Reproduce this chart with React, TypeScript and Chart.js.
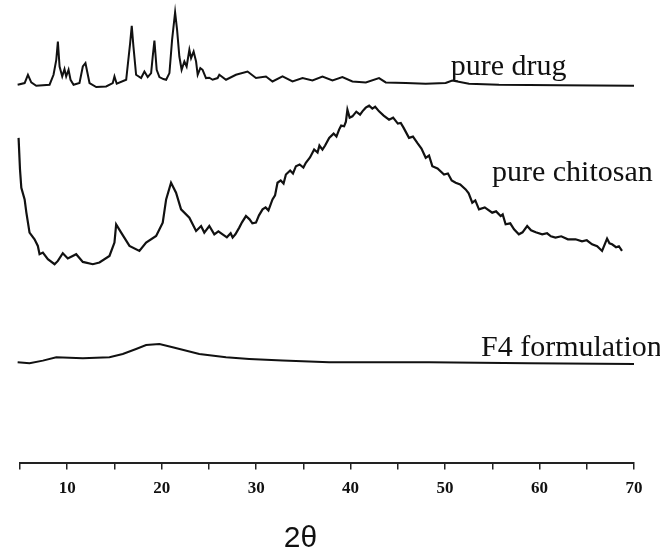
import React, { useEffect, useRef } from "react";
import { Chart, registerables } from "chart.js";

Chart.register(...registerables);

// Stacked XRD patterns (offset intensity, arbitrary units) vs 2θ
const drugTheta = [4.75, 5.49, 5.84, 6.19, 6.72, 8.13, 8.55, 8.84, 9.01, 9.19, 9.47, 9.71, 9.89, 10.14, 10.35, 10.67, 11.3, 11.65, 11.93, 12.11, 12.36, 13.07, 14.12, 14.82, 15.0, 15.24, 16.24, 16.66, 16.83, 17.01, 17.29, 17.82, 18.17, 18.52, 18.88, 19.05, 19.23, 19.47, 19.76, 20.18, 20.47, 20.82, 21.1, 21.42, 21.63, 21.87, 22.11, 22.4, 22.64, 22.93, 23.11, 23.38, 23.64, 23.81, 24.09, 24.33, 24.69, 25.04, 25.39, 25.92, 26.1, 26.81, 27.86, 29.09, 29.98, 31.04, 31.73, 32.79, 33.85, 34.91, 35.96, 37.02, 38.08, 39.13, 40.19, 41.61, 43.01, 43.72, 45.84, 47.95, 50.06, 50.76, 52.53, 55.7, 62.04, 70.0];
const drugCounts = [379, 380.7, 389, 381.3, 378, 379, 389, 404, 422.3, 397.3, 387.3, 394.7, 387.3, 394, 384, 379, 380.7, 397.3, 400.7, 392.3, 380.7, 376.7, 377.3, 380.7, 387.3, 380, 384, 420.7, 438, 417.3, 389, 385.7, 392.3, 386.7, 390.7, 407.3, 423.3, 394, 386.7, 384.7, 384, 390.7, 424, 451.7, 434, 407.3, 394, 402.3, 397.3, 414, 405.7, 412.3, 402.3, 389, 395.7, 394, 385.7, 386, 384, 385.7, 389, 384, 389, 392.3, 385.7, 387.3, 382.3, 387.3, 382.3, 385.7, 383.3, 387.3, 383.3, 386.7, 382.3, 381.3, 385.7, 381.3, 380.7, 380, 380.7, 383.3, 380, 379, 378.5, 378];

const chitosanTheta = [4.85, 5.0, 5.14, 5.49, 5.67, 6.01, 6.54, 6.89, 7.07, 7.42, 7.95, 8.66, 9.01, 9.53, 10.06, 10.95, 11.65, 12.71, 13.41, 14.47, 15.0, 15.18, 15.71, 16.59, 17.64, 18.35, 19.41, 20.11, 20.47, 20.99, 21.52, 22.05, 22.93, 23.64, 24.17, 24.51, 25.04, 25.57, 26.0, 26.45, 26.9, 27.3, 27.51, 27.8, 28.21, 28.5, 28.92, 29.3, 29.6, 29.98, 30.3, 30.68, 31.0, 31.3, 31.73, 32.0, 32.26, 32.6, 32.9, 33.15, 33.6, 33.9, 34.21, 34.6, 35.0, 35.26, 35.7, 36.14, 36.5, 36.7, 37.02, 37.3, 37.73, 38.2, 38.5, 38.78, 39.0, 39.31, 39.5, 39.66, 39.9, 40.19, 40.6, 41.0, 41.25, 41.6, 41.96, 42.3, 42.6, 43.01, 43.5, 44.07, 44.5, 45.0, 45.31, 45.6, 46.18, 46.6, 47.06, 47.5, 47.95, 48.3, 48.65, 49.2, 49.89, 50.3, 50.7, 51.12, 51.6, 52.18, 52.5, 52.88, 53.2, 53.59, 54.2, 54.99, 55.4, 55.88, 56.1, 56.41, 56.9, 57.3, 57.81, 58.2, 58.69, 59.1, 59.6, 60.28, 60.8, 61.2, 61.69, 62.3, 63.0, 63.81, 64.5, 65.0, 65.56, 66.1, 66.62, 67.15, 67.4, 67.68, 68.1, 68.4, 68.73];
const chitosanCounts = [325.7, 294, 275.7, 264, 251, 230.7, 224, 217.3, 209, 210.7, 204, 199, 202.3, 210, 204.7, 209, 201.3, 199, 200.7, 207.3, 220.7, 239, 230.7, 217.3, 212.3, 220.7, 227.3, 240.7, 264, 280.7, 270.7, 254, 245.7, 232.3, 237.3, 230.7, 237.3, 229, 232, 229, 226, 230, 225.7, 229, 235.7, 241, 247.3, 244, 240, 240.7, 248, 254, 256, 253, 264, 268, 280.7, 283, 280, 289, 293, 290, 297.3, 299, 296, 300.7, 306, 314, 311, 318, 314, 318, 325.7, 330, 327, 334, 338, 337.3, 342, 354, 346, 347.3, 352, 349, 352.3, 356, 358, 355, 357, 352.3, 348, 344, 346, 340, 340.7, 336, 325.7, 327, 320.7, 315, 305.7, 308, 297.3, 295, 289, 290, 283, 280.7, 279, 274, 270, 260.7, 263, 254, 256, 250.7, 252, 247.3, 249, 239, 240, 234, 229, 231, 237.3, 233, 231, 229, 230, 227, 225.7, 227, 224, 224, 222, 223, 219, 217, 212.3, 224.7, 220, 219, 216, 217, 212.3];

const f4Theta = [4.75, 6.01, 7.42, 8.84, 11.65, 14.47, 15.88, 17.29, 18.35, 19.76, 21.16, 23.98, 26.81, 29.27, 32.79, 37.73, 48.3, 58.87, 70.0];
const f4Counts = [100.7, 99.7, 102.3, 105.7, 104.7, 105.7, 109, 114, 118, 119, 115.7, 109, 105.7, 104, 102.3, 100.7, 100.7, 99.7, 99];

const sampleLabels = ["pure drug", "pure chitosan", "F4 formulation"];
const labelTheta = [50.6, 54.96, 53.8];
const labelCounts = [389, 282, 107];
const labelFontSizes = [30, 30, 30];

const xMin = 5;
const xMax = 70;
const tickStep = 5;
const xTitle = "2θ";
const xTitleTheta = 34.7;

const toPoints = (xs: number[], ys: number[]) => xs.map((x, i) => ({ x, y: ys[i] }));

const textPlugin = {
  id: "sampleText",
  afterDraw(chart: any) {
    const ctx = chart.ctx;
    const xs = chart.scales.x;
    const ys = chart.scales.y;
    ctx.save();
    ctx.fillStyle = "#111";
    ctx.textAlign = "left";
    ctx.textBaseline = "alphabetic";
    sampleLabels.forEach((t, i) => {
      ctx.font = `${labelFontSizes[i]}px "Liberation Serif", "Times New Roman", serif`;
      ctx.fillText(t, xs.getPixelForValue(labelTheta[i]), ys.getPixelForValue(labelCounts[i]));
    });
    ctx.font = `30px "Liberation Sans", Arial, sans-serif`;
    ctx.textAlign = "center";
    ctx.textBaseline = "alphabetic";
    ctx.fillText(xTitle, xs.getPixelForValue(xTitleTheta), chart.height - 2);
    ctx.restore();
  },
};

export default function App() {
  const ref = useRef<HTMLCanvasElement | null>(null);
  useEffect(() => {
    if (!ref.current) return;
    const lineStyle = { borderColor: "#111", pointRadius: 0, tension: 0, fill: false, clip: false as any };
    const chart = new Chart(ref.current, {
      type: "line",
      data: {
        datasets: [
          { label: sampleLabels[0], data: toPoints(drugTheta, drugCounts), borderWidth: 2, ...lineStyle },
          { label: sampleLabels[1], data: toPoints(chitosanTheta, chitosanCounts), borderWidth: 2.2, ...lineStyle },
          { label: sampleLabels[2], data: toPoints(f4Theta, f4Counts), borderWidth: 2, ...lineStyle },
        ],
      },
      options: {
        animation: false,
        responsive: false,
        layout: { padding: { left: 20, right: 26, top: 0, bottom: 41 } },
        plugins: { legend: { display: false }, tooltip: { enabled: false } },
        scales: {
          x: {
            type: "linear",
            min: xMin,
            max: xMax,
            grid: { drawOnChartArea: false, drawTicks: true, tickLength: 7, color: "#222", lineWidth: 1.5 },
            border: { display: true, color: "#222", width: 2 },
            ticks: {
              stepSize: tickStep,
              autoSkip: false,
              maxRotation: 0,
              padding: 9,
              color: "#111",
              font: { family: '"Liberation Serif", "Times New Roman", serif', size: 17, weight: "bold" },
              callback: (v: any) => (Number(v) % 10 === 0 ? String(v) : ""),
            },
          },
          y: { type: "linear", min: 0, max: 464, display: false },
        },
      },
      plugins: [textPlugin],
    });
    return () => chart.destroy();
  }, []);
  return (
    <canvas
      ref={ref}
      width={660}
      height={549}
      style={{ position: "absolute", left: 0, top: 0, display: "block", background: "#fff" }}
    />
  );
}
